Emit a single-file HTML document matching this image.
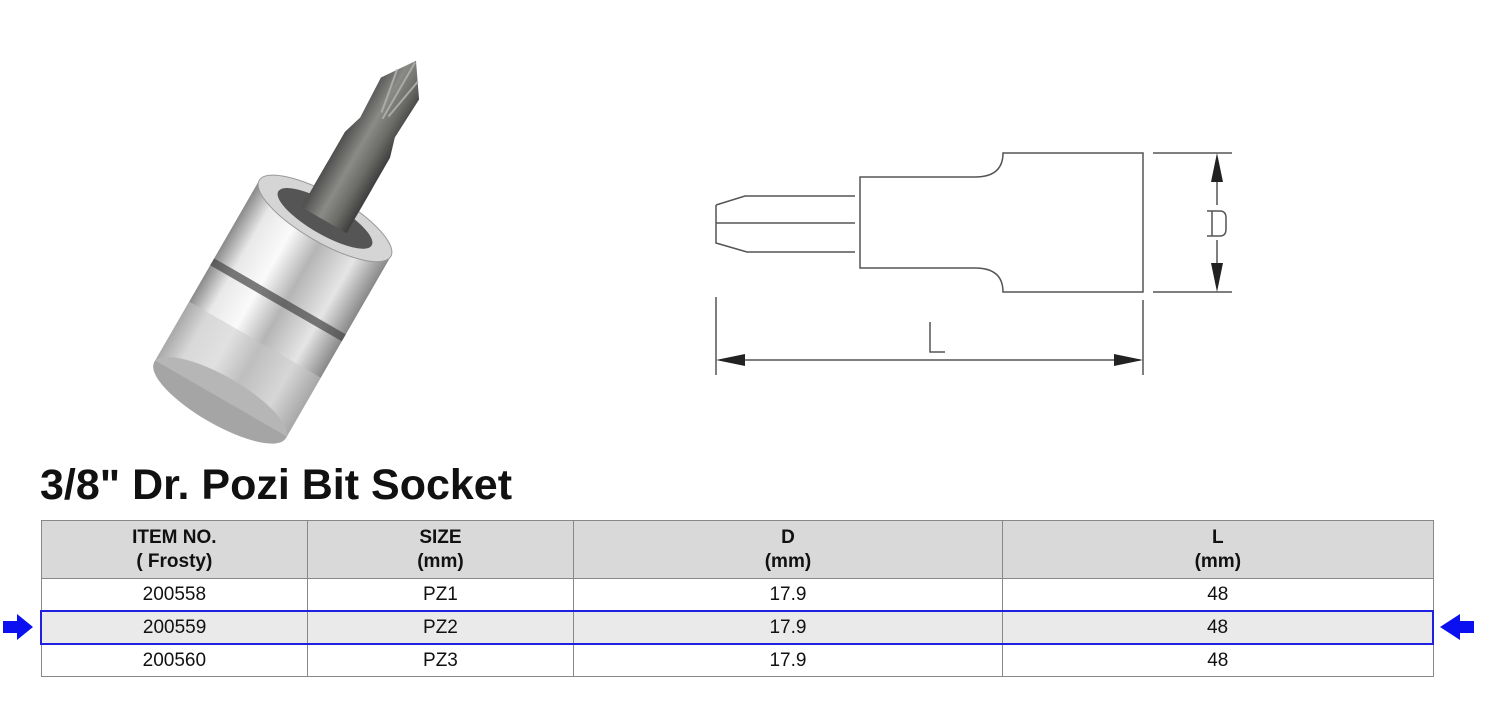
<!DOCTYPE html>
<html><head><meta charset="utf-8"><style>
html,body{margin:0;padding:0;background:#fff;width:1500px;height:720px;overflow:hidden;font-family:"Liberation Sans",Arial,sans-serif;}
.t{position:absolute;left:40px;top:459px;font-size:43px;font-weight:bold;color:#111;line-height:52px;}
table{position:absolute;left:40px;top:520px;border-collapse:collapse;width:1394px;font-size:19px;color:#111;}
td{border:1px solid #888;text-align:center;padding:0;}
tr.h td{background:#d9d9d9;font-weight:bold;height:57px;line-height:24px;}
tr.r td{height:31px;}
tr.s td{background:#eaeaea;border-top:2px solid #2020e0;border-bottom:2px solid #2020e0;}
tr.s td:first-child{border-left:2px solid #2020e0;}
tr.s td:last-child{border-right:2px solid #2020e0;}
</style></head><body>
<svg width="1500" height="720" style="position:absolute;left:0;top:0">
<defs>
<linearGradient id="cy" x1="0" x2="1" y1="0" y2="0">
<stop offset="0" stop-color="#8a8a8a"/><stop offset="0.15" stop-color="#e8e8e8"/><stop offset="0.35" stop-color="#fafafa"/><stop offset="0.55" stop-color="#b5b5b5"/><stop offset="0.8" stop-color="#e5e5e5"/><stop offset="1" stop-color="#888"/>
</linearGradient>
<linearGradient id="bt" x1="0" x2="1" y1="0" y2="0">
<stop offset="0" stop-color="#4f4f4f"/><stop offset="0.4" stop-color="#8a8a86"/><stop offset="0.7" stop-color="#6c6c68"/><stop offset="1" stop-color="#3e3e3e"/>
</linearGradient>
</defs>
<g transform="translate(275,305) rotate(30)">
<path d="M-26,-100 L-26,-185 L-20,-205 L-22,-250 L0,-282 L22,-250 L20,-205 L26,-185 L26,-100 Z" fill="url(#bt)"/>
<path d="M0,-280 L0,-215 M-12,-265 L-4,-220 M12,-265 L4,-220" stroke="#aaa" stroke-width="2" fill="none"/>
<rect x="-76" y="-100" width="152" height="210" fill="url(#cy)"/>
<ellipse cx="0" cy="110" rx="76" ry="24" fill="#a5a5a5"/>
<ellipse cx="0" cy="-100" rx="76" ry="24" fill="#d5d5d5" stroke="#999"/>
<ellipse cx="0" cy="-100" rx="54" ry="16" fill="#555"/>
<rect x="-26" y="-150" width="52" height="52" fill="url(#bt)"/>
<rect x="-76" y="-10" width="152" height="8" fill="#444" opacity="0.7"/>
<rect x="-76" y="40" width="152" height="68" fill="#c8c8c8" opacity="0.5"/>
</g>
<g stroke="#555" stroke-width="1.5" fill="none">
<path d="M716,205 L745,196 L855,196 M716,205 L716,243 L747,252 L855,252 M716,223 L855,223"/>
<path d="M860,177 L975,177 Q1003,177 1003,153 L1143,153 L1143,292 L1003,292 Q1003,268 975,268 L860,268 Z"/>
<path d="M1153,153 L1232,153 M1153,292 L1232,292 M1217,180 L1217,205 M1217,240 L1217,265"/>
<path d="M716,297 L716,375 M1143,300 L1143,375 M720,360 L1140,360"/>
<path d="M930,322 L930,352 L945,352"/>
<path d="M1212,211 L1212,236 M1207,211 L1220,211 Q1226,211 1226,218 L1226,229 Q1226,236 1220,236 L1207,236"/>
</g>
<g fill="#222">
<polygon points="1217,153 1211,182 1223,182"/><polygon points="1217,292 1211,263 1223,263"/>
<polygon points="716,360 745,354 745,366"/><polygon points="1143,360 1114,354 1114,366"/>
</g>
<polygon points="3,621 17,621 17,614 33,627 17,640 17,633 3,633" fill="#0a10f0"/>
<polygon points="1474,621 1460,621 1460,614 1440,627 1460,640 1460,633 1474,633" fill="#0a10f0"/>
</svg>
<div class="t">3/8" Dr. Pozi Bit Socket</div>
<table>
<colgroup><col style="width:267px"><col style="width:266px"><col style="width:430px"><col style="width:431px"></colgroup>
<tr class="h"><td>ITEM NO.<br>( Frosty)</td><td>SIZE<br>(mm)</td><td>D<br>(mm)</td><td>L<br>(mm)</td></tr>
<tr class="r"><td>200558</td><td>PZ1</td><td>17.9</td><td>48</td></tr>
<tr class="r s"><td>200559</td><td>PZ2</td><td>17.9</td><td>48</td></tr>
<tr class="r"><td>200560</td><td>PZ3</td><td>17.9</td><td>48</td></tr>
</table>
</body></html>
